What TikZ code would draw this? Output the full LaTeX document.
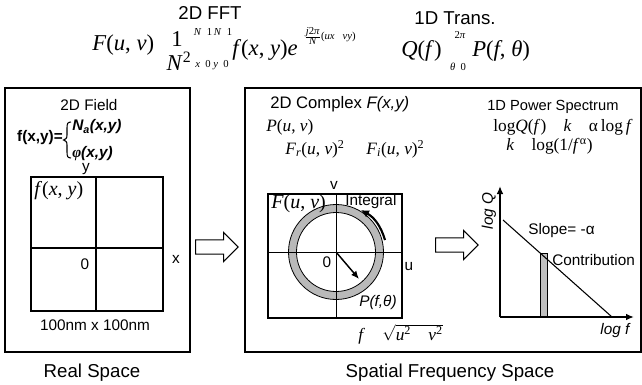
\documentclass[tikz,border=0pt]{standalone}
\usepackage{fontspec}
\setmainfont{Liberation Sans}
\newfontfamily\tms{Liberation Serif}
\usetikzlibrary{shapes.arrows,arrows.meta}
\newcommand\vi[1]{\textit{#1}}
\begin{document}
\begin{tikzpicture}[x=0.75pt,y=-0.75pt,
  lbl/.style={inner sep=0pt, font=\fontsize{14}{16}\selectfont},
  sm/.style={inner sep=0pt, font=\fontsize{11.5}{13}\selectfont},
  eq/.style={inner sep=0pt, font=\tms\fontsize{17}{19}\selectfont},
  eqm/.style={inner sep=0pt, font=\tms\fontsize{15}{17}\selectfont},
  eqs/.style={inner sep=0pt, font=\tms\fontsize{13}{15}\selectfont},
  eqt/.style={inner sep=0pt, font=\tms\fontsize{8}{9}\selectfont},
  frame/.style={draw, line width=1.1pt},
  gridline/.style={draw, line width=0.9pt},
  axis/.style={line width=1.8pt, -{Latex[length=6pt,width=5pt]}},
  blockarrow/.style={single arrow, draw, line width=0.8pt, minimum height=32pt,
    single arrow head extend=5.5pt, inner ysep=5pt, inner xsep=0pt,
    text height=0pt, text depth=0pt, text width=0pt}
]
\useasboundingbox (0,0) rectangle (642,385);

% ---------- top equations ----------
\node[lbl] (fft) at (210,13) {2D FFT};
\node[lbl] (trans) at (455,18) {1D Trans.};
\node[eq, anchor=west] (Fuv) at (92,45) {\vi{F}(\vi{u}, \vi{v})};
\node[eq] (one) at (177,39) {1};
\node[eq] (Nsq) at (179,61) {\vi{N}\textsuperscript{2}};
\node[eqt] (supN) at (213,32) {\vi{N}\ \ 1\,\vi{N}\ \ 1};
\node[eqt] (subx) at (212,65) {\vi{x}\ \ 0\ \vi{y}\ \ 0};
\node[eq, anchor=west] (fxy) at (232,50) {\vi{f}(\vi{x}, \vi{y})\vi{e}};
\node[eqt, anchor=west] (expo) at (304,36) {$\frac{\hbox{\tms\fontsize{8}{9}\selectfont\itshape j\upshape 2\itshape π}}{\hbox{\tms\fontsize{8}{9}\selectfont\itshape N}}$(\vi{ux}\ \ \ \vi{vy})};
\node[eq, anchor=west] (Qf) at (401,51) {\vi{Q}(\vi{f})};
\node[eqt] (twopi) at (460,35) {2\vi{π}};
\node[eqt] (th0) at (458,67) {\vi{θ}\ \ 0};
\node[eq, anchor=west] (Pft) at (472,51) {\vi{P}(\vi{f}, \vi{θ})};

% ---------- left panel ----------
\draw[frame] (5,88) rectangle (190,352);
\node[sm] (field) at (89,105) {2D Field};
\node[sm, anchor=east] (fdef) at (63,138) {\bfseries f(x,y)=};
\draw[line width=0.8pt] (71,122) .. controls (67.5,122) and (67,124) .. (67,128) -- (67,135)
  .. controls (67,138.5) and (65.5,139.5) .. (63.5,140)
  .. controls (65.5,140.5) and (67,141.5) .. (67,145) -- (67,152)
  .. controls (67,156) and (67.5,158) .. (71,158);
\node[sm, anchor=west] (Na) at (72,127) {\bfseries\itshape N\textsubscript{a}(x,y)};
\node[sm, anchor=west] (phi) at (72,154) {{\tms\bfseries\itshape φ}\bfseries\itshape (x,y)};
\node[sm] (ylab) at (86,169) {y};
\draw[gridline] (31,177) rectangle (163,311);
\draw[gridline] (96,177) -- (96,311);
\draw[gridline] (31,248) -- (163,248);
\node[eqm, anchor=west] (fxy2) at (34,191) {\vi{f}(\vi{x}, \vi{y})};
\node[sm] (zero1) at (85,264) {0};
\node[sm] (xlab) at (176,259) {x};
\node[sm] (size) at (95,325) {100nm x 100nm};
\node[lbl] (real) at (92,373) {Real Space};

% ---------- block arrows ----------
\node[blockarrow, anchor=tail] (arr1) at (195,247) {};
\node[blockarrow, anchor=tail] (arr2) at (435,245) {};

% ---------- middle panel ----------
\draw[frame] (245,88) rectangle (641,352);
\node[inner sep=0pt, font=\fontsize{12.5}{14}\selectfont, anchor=west] (complex) at (270,104) {2D Complex \vi{F(x,y)}};
\node[eqs, anchor=west] (Puv) at (266,127) {\vi{P}(\vi{u}, \vi{v})};
\node[eqs, anchor=west] (Fri) at (285,149) {\vi{F}\textsubscript{\vi{r}}(\vi{u}, \vi{v})\textsuperscript{2}\quad\ \vi{F}\textsubscript{\vi{i}}(\vi{u}, \vi{v})\textsuperscript{2}};
\node[sm] (vlab) at (334,185) {v};
\coordinate (c) at (336,252);
\draw[line width=6pt, gray!55] (c) circle[radius=43.5];
\draw[line width=0.6pt] (c) circle[radius=39.5];
\draw[line width=0.6pt] (c) circle[radius=47.5];
\draw[gridline] (268,194) rectangle (402,318);
\draw[line width=0.7pt] (336,194) -- (336,318);
\draw[line width=0.7pt] (268,252) -- (402,252);
\node[eqm, anchor=west] (Fuv2) at (271,204) {\vi{F}(\vi{u}, \vi{v})};
\node[sm, anchor=west] (integral) at (345,202) {Integral};
\coordinate (ia) at (385,240);
\coordinate (ib) at (361,210);
\draw[line width=1.6pt, -{Latex[length=6pt,width=6pt]}] (ia) to[bend right=22] (ib);
\node[sm] (zero2) at (327,262) {0};
\coordinate (pend) at (359,279);
\draw[line width=1.1pt, -{Latex[length=6pt,width=5pt]}] (c) -- (pend);
\node[sm] (ulab) at (409,267) {u};
\node[sm] (Pfth) at (378,303) {\vi{P(f,θ)}};
\node[eqs, anchor=west] (fsq) at (358,334) {\vi{f}\quad $\sqrt{\hbox{\tms\fontsize{13}{15}\selectfont\itshape u\upshape\textsuperscript{2}\quad\itshape v\upshape\textsuperscript{2}}}$};
\node[lbl] (spatial) at (450,373) {Spatial Frequency Space};

% ---------- right column ----------
\node[inner sep=0pt, font=\fontsize{11}{13}\selectfont, anchor=west] (power) at (487,107) {1D Power Spectrum};
\node[eqs, anchor=west] (logq) at (493,127) {log\vi{Q}(\vi{f})\quad\vi{k}\quad α\,log\,\vi{f}};
\node[eqs, anchor=west] (klog) at (506,146) {\vi{k}\quad log(1/\vi{f}\textsuperscript{α})};
\coordinate (o) at (500,317);
\coordinate (ytop) at (500,186);
\coordinate (xend) at (634,317);
\coordinate (l1) at (503,220);
\coordinate (l2) at (612,317);
\draw[line width=0.6pt, fill=gray!50] (540,253) rectangle (547,317);
\draw[line width=0.8pt] (l1) -- (l2);
\draw[axis] (o) -- (ytop);
\draw[axis] (o) -- (xend);
\node[sm, rotate=90] (logQ) at (489,211) {\vi{log Q}};
\node[sm, anchor=west] (slope) at (528,231) {Slope= -α};
\node[sm, anchor=west] (contrib) at (552,260) {Contribution};
\node[sm, anchor=east] (logf) at (631,331) {\vi{log f}};
\end{tikzpicture}
\end{document}
